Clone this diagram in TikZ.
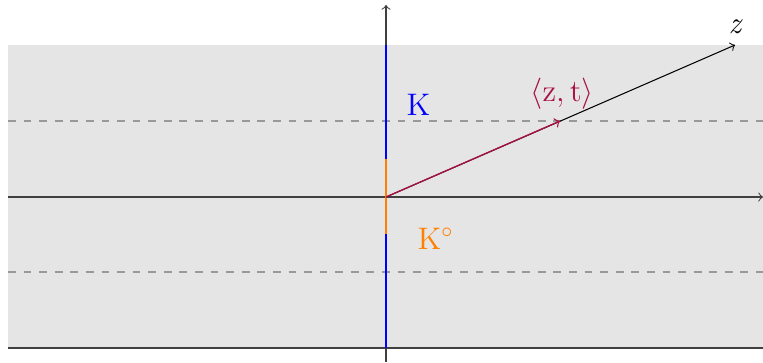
\documentclass[tikz,border=0pt]{standalone}
\definecolor{crim}{RGB}{170,15,70}
\definecolor{orng}{RGB}{255,128,0}
\tikzset{
  axis/.style={draw=black!75, line width=0.4pt},
  guide/.style={draw=black!40, dashed, line width=0.4pt},
  cone/.style={line width=1.1pt},
  lbl/.style={inner sep=0pt, anchor=base west, font=\large},
}
\begin{document}
\begin{tikzpicture}[x=0.385pt,y=-0.385pt]
\useasboundingbox (0,0) rectangle (763,362);
\fill[black!10] (8,45) rectangle (763,348);
% coordinates
\coordinate (O) at (386,197);
\coordinate (L) at (8,197);
\coordinate (R) at (763,197);
\coordinate (B) at (386,362);
\coordinate (T) at (386,5);
\coordinate (Kt) at (386,45);
\coordinate (Kb) at (386,348);
\coordinate (Ot) at (386,159);
\coordinate (Ob) at (386,234);
\coordinate (P) at (560,121);
\coordinate (Z) at (735,45);
\coordinate (D1l) at (8,121);
\coordinate (D1r) at (763,121);
\coordinate (D2l) at (8,272);
\coordinate (D2r) at (763,272);
\coordinate (BLl) at (8,348);
\coordinate (BLr) at (763,348);
% dashed guides
\draw[guide] (D1l) -- (D1r);
\draw[guide] (D2l) -- (D2r);
\draw[axis] (BLl) -- (BLr);
% axes
\draw[axis,->] (L) -- (R);
\draw[axis,->] (B) -- (T);
% cones
\draw[cone,blue] (Kt) -- (Kb);
\draw[cone,orng] (Ot) -- (Ob);
% ray
\draw[black,->] (O) -- (Z);
\draw[crim,->,line width=0.5pt] (O) -- (P);
% labels
\node[lbl,text=blue] (k) at (406,115) {$\mathrm{K}$};
\node[lbl,text=orng] (ko) at (417,249) {$\mathrm{K}^{\circ}$};
\node[lbl,text=crim] (zt) at (530,101) {$\langle \mathrm{z},\mathrm{t}\rangle$};
\node[lbl] (zl) at (728,33) {\textit{z}};
\end{tikzpicture}
\end{document}
